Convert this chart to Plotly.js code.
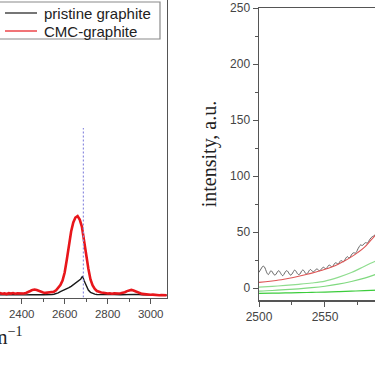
<!DOCTYPE html>
<html><head><meta charset="utf-8">
<script src="https://cdn.plot.ly/plotly-3.0.1.min.js"></script>
<style>html,body{margin:0;padding:0;width:375px;height:375px;overflow:hidden;background:#fff}
#plot{position:absolute;left:-300px;top:-20px;width:740px;height:395px}</style>
</head><body><div id="plot"></div>
<script>
// ---- left panel: Raman spectra (2D band region) ----
const ramanShift = [2280,2290,2300,2310,2320,2330,2340,2350,2360,2370,2380,2390,2400,2410,2420,2430,2440,2450,2460,2470,2480,2490,2500,2510,2520,2530,2540,2550,2560,2570,2580,2590,2600,2610,2620,2630,2640,2650,2660,2670,2680,2690,2700,2710,2720,2730,2740,2750,2760,2770,2780,2790,2800,2810,2820,2830,2840,2850,2860,2870,2880,2890,2900,2910,2920,2930,2940,2950,2960,2970,2980,2990,3000,3010,3020,3030,3040,3050,3060,3070,3075];
const cmcGraphite = [4.2,3.6,4.4,3.8,4.1,3.5,4.3,3.9,4.5,3.8,4.2,4.0,4.4,4.0,4.6,5.2,6.5,7.6,8.0,7.4,6.4,5.6,5.0,4.6,4.9,4.5,5.0,5.8,7.2,9.5,12.5,17,25,38,53,66,75,80,81.5,78,71,59,43,29,18,12,8.5,6.5,5.5,5.0,4.8,4.2,4.0,4.3,3.8,4.1,3.7,4.0,4.3,4.6,5.3,6.4,7.3,7.6,7.0,6.0,5.0,4.2,3.6,3.4,3.0,3.2,2.8,2.9,2.5,2.7,2.3,2.5,2.2,2.1,2.2];
const pristineShift = [2280,2300,2320,2340,2360,2380,2400,2420,2440,2460,2480,2500,2520,2530,2540,2550,2560,2570,2580,2590,2600,2610,2620,2630,2640,2650,2660,2670,2675,2680,2684,2690,2700,2710,2720,2730,2740,2750,2770,2800,2830,2860,2890,2910,2930,2960,3000,3040,3075];
const pristineGraphite = [2.7,2.5,2.9,2.6,2.8,2.5,2.7,2.6,2.9,3.1,2.8,2.7,2.6,2.8,3.0,3.3,3.8,4.6,5.8,6.6,7.5,8.6,9.8,11.2,12.8,14.0,15.3,16.8,18.5,20.5,21.0,17.0,11.5,7.5,5.2,4.0,3.4,3.0,2.8,2.7,2.9,2.8,3.2,3.5,3.1,2.7,2.5,2.4,2.3];
const peakPosition = [2687, 2687];
const peakMarker = [0, 169.5];
const leftTickVals = [2400, 2600, 2800, 3000];
const leftTickText = ['2400', '2600', '2800', '3000'];
const leftMinorVals = [2500, 2700, 2900];

// ---- right panel: fit of the low-wavenumber tail ----
const fitShift = [2500,2505,2510,2515,2520,2525,2530,2535,2540,2545,2550,2555,2560,2565,2570,2575,2580,2585,2590];
const fitSum = [5.0,5.6,6.3,7.1,8.1,9.2,10.5,11.9,13.3,14.9,16.7,18.8,21.3,24.3,27.8,31.8,36.5,43.0,49.5];
const compShift = [2500,2510,2520,2530,2540,2550,2560,2570,2580,2590];
const comp1 = [0.8,1.5,2.3,3.3,4.5,6.2,9.5,13.8,19.5,25.0];
const comp2 = [-2.7,-2.2,-1.5,-0.7,0.3,1.6,3.4,5.8,8.8,12.8];
const comp3 = [-4.8,-4.6,-4.4,-4.2,-3.9,-3.6,-3.2,-2.8,-2.4,-1.9];
const measShift = [];
for (let k = 2500; k <= 2590; k++) measShift.push(k);
const measured = [14,16,18,19.5,19,16.5,13.5,12,13.5,15.5,14.5,12.5,11.5,12.5,14.5,15.5,14,12,11,12.5,14.5,15.5,14.5,12.5,11.5,12.5,14.5,16,15,13,12,12.5,14.5,16,15.5,13.5,12.5,13.5,15.5,16.5,15.5,14.5,15,16.5,17,16,15.5,16.5,18,18.5,17.5,17.5,19,20.5,20,19,19.5,21.5,22.5,22,21.5,23,24.5,24,23.5,25,27,28,27,27.5,29.5,31,31.5,31,32.5,35,37,38.5,38,38.5,40,40.5,40,41.5,43.5,45,46,46.5,47.5,49,51];

const legendNames = ['pristine graphite', 'CMC-graphite'];
const legendColors = ['#1a1a1a', '#e8161b'];

const traces = [
  {x: pristineShift, y: pristineGraphite, name: legendNames[0], type: 'scatter', mode: 'lines', showlegend: false,
   line: {color: legendColors[0], width: 1.4}, xaxis: 'x', yaxis: 'y'},
  {x: ramanShift, y: cmcGraphite, name: legendNames[1], type: 'scatter', mode: 'lines', showlegend: false,
   line: {color: legendColors[1], width: 2.6}, xaxis: 'x', yaxis: 'y'},
  {x: peakPosition, y: peakMarker, type: 'scatter', mode: 'lines', showlegend: false,
   line: {color: '#8f8fe0', width: 1.2, dash: '2px,2px'}, xaxis: 'x', yaxis: 'y'},
  {x: compShift, y: comp3, type: 'scatter', mode: 'lines', showlegend: false, line: {color: '#3ccc3c', width: 1.2, shape: 'spline'}, xaxis: 'x2', yaxis: 'y2'},
  {x: compShift, y: comp2, type: 'scatter', mode: 'lines', showlegend: false, line: {color: '#7fd97f', width: 1.2, shape: 'spline'}, xaxis: 'x2', yaxis: 'y2'},
  {x: compShift, y: comp1, type: 'scatter', mode: 'lines', showlegend: false, line: {color: '#8fdd8f', width: 1.2, shape: 'spline'}, xaxis: 'x2', yaxis: 'y2'},
  {x: measShift, y: measured, type: 'scatter', mode: 'lines', showlegend: false, line: {color: '#555555', width: 0.9, shape: 'spline'}, xaxis: 'x2', yaxis: 'y2'},
  {x: fitShift, y: fitSum, type: 'scatter', mode: 'lines', showlegend: false, line: {color: '#dd5555', width: 1.1, shape: 'spline'}, xaxis: 'x2', yaxis: 'y2'}
];

// screen pixel -> paper coordinate helpers (div is offset by -300,-20; plot area 740 x 320)
const px = x => (x + 300) / 740;
const py = y => (300 - y) / 320;

const shapes = [
  {type: 'rect', xref: 'paper', yref: 'paper', x0: px(-6), x1: px(160), y0: py(39), y1: py(2),
   line: {color: '#8a8a8a', width: 1.2}, fillcolor: '#fff', layer: 'above'}
];
const annotations = [
  {text: 'Raman shift, cm<sup>−1</sup>', xref: 'paper', yref: 'paper', x: px(25), y: py(336),
   xanchor: 'right', yanchor: 'middle', showarrow: false,
   font: {family: 'Liberation Serif, Times New Roman, serif', size: 20, color: '#222'}}
];
legendNames.forEach((name, i) => {
  const yc = 13 + i * 18;
  shapes.push({type: 'line', xref: 'paper', yref: 'paper', x0: px(5), x1: px(37), y0: py(yc), y1: py(yc),
               line: {color: legendColors[i], width: 1.2}, layer: 'above'});
  annotations.push({text: name, xref: 'paper', yref: 'paper', x: px(42), y: py(yc),
                    xanchor: 'left', yanchor: 'middle', showarrow: false,
                    font: {family: 'Liberation Sans, Arial, sans-serif', size: 15, color: '#222'}});
});

const tickFont = {family: 'Liberation Sans, Arial, sans-serif', size: 12, color: '#444'};
const layout = {
  width: 740, height: 395,
  margin: {l: 0, r: 0, t: 0, b: 75},
  paper_bgcolor: '#fff', plot_bgcolor: '#fff',
  showlegend: false,
  xaxis: {domain: [0.05703, 0.63081], range: [1100, 3075], anchor: 'y',
          showgrid: false, zeroline: false, showline: true, mirror: true, linecolor: '#555', linewidth: 1.5,
          ticks: 'outside', ticklen: 5, tickcolor: '#555',
          tickmode: 'array', tickvals: leftTickVals, ticktext: leftTickText,
          minor: {tickmode: 'array', tickvals: leftMinorVals, ticks: 'outside', ticklen: 3, tickcolor: '#555'},
          tickfont: {family: 'Liberation Sans, Arial, sans-serif', size: 11.5, color: '#444'}},
  yaxis: {domain: [0.0078, 0.984], range: [0, 312.5], anchor: 'x',
          showgrid: false, zeroline: false, showline: true, mirror: true, linecolor: '#555', linewidth: 1.5,
          ticks: '', showticklabels: false},
  xaxis2: {domain: [0.75541, 0.92662], range: [2500, 2596], anchor: 'y2',
           showgrid: false, zeroline: false, showline: true, mirror: true, linecolor: '#555', linewidth: 1.5,
           ticks: 'outside', ticklen: 5, tickcolor: '#555', dtick: 50, tick0: 0,
           minor: {dtick: 25, ticks: 'outside', ticklen: 3, tickcolor: '#555'},
           tickfont: tickFont},
  yaxis2: {domain: [0, 0.9125], range: [-10.7, 250], anchor: 'x2',
           showgrid: false, zeroline: false, showline: true, mirror: true, linecolor: '#555', linewidth: 1.5,
           ticks: 'outside', ticklen: 5, tickcolor: '#555', dtick: 50, tick0: 0,
           minor: {dtick: 25, ticks: 'outside', ticklen: 3, tickcolor: '#555'},
           tickfont: tickFont,
           title: {text: 'intensity, a.u.', standoff: 8,
                   font: {family: 'Liberation Serif, Times New Roman, serif', size: 20, color: '#222'}}},
  shapes: shapes,
  annotations: annotations
};
Plotly.newPlot('plot', traces, layout, {staticPlot: true, displayModeBar: false});
</script></body></html>
